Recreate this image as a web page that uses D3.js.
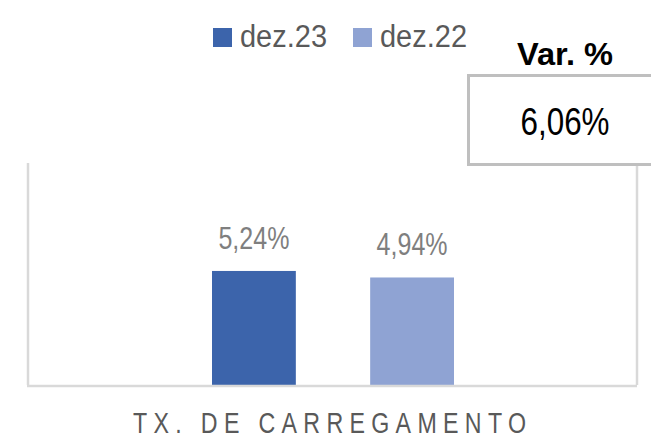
<!DOCTYPE html>
<html lang="pt">
<head>
<meta charset="UTF-8">
<title>Tx. de carregamento</title>
<style>
  body { margin: 0; background: #fff; }
  svg text { font-family: "Liberation Sans", Arial, sans-serif; }
</style>
</head>
<body>
<svg id="chart" width="651" height="442"></svg>
<script src="https://d3js.org/d3.v7.min.js"></script>
<script>
// data
const categories = ["TX. DE CARREGAMENTO"];
const seriesNames = ["dez.23", "dez.22"];
const seriesValues = [5.24, 4.94];
const seriesColors = ["#3c64ab", "#8fa3d3"];
const variation = "6,06%";

const fmt = v => v.toFixed(2).replace(".", ",") + "%";

const svg = d3.select("#chart");
const plotLeft = 28, plotRight = 637, plotTop = 163, plotBottom = 385;

const x0 = d3.scaleBand().domain(categories).range([plotLeft, plotRight]);
const x1 = d3.scaleBand().domain(seriesNames)
    .range([x0(categories[0]) + 184, x0(categories[0]) + 426])
    .paddingInner(0.47).paddingOuter(0);
const y = d3.scaleLinear().domain([0, 10.2]).range([plotBottom, plotTop]);

// plot frame (left, right lines)
svg.append("line").attr("x1", plotLeft).attr("x2", plotLeft).attr("y1", plotTop).attr("y2", plotBottom)
    .attr("stroke", "#d9d9d9").attr("stroke-width", 2.5);
svg.append("line").attr("x1", plotRight).attr("x2", plotRight).attr("y1", plotTop).attr("y2", plotBottom)
    .attr("stroke", "#d9d9d9").attr("stroke-width", 2.5);

// bars
const rows = seriesNames.map((s, i) => ({ s, v: seriesValues[i], c: seriesColors[i] }));
const g = svg.append("g");
g.selectAll("rect").data(rows).join("rect")
    .attr("x", d => x1(d.s))
    .attr("width", x1.bandwidth())
    .attr("y", d => y(d.v))
    .attr("height", d => y(0) - y(d.v))
    .attr("fill", d => d.c);

// narrow-looking labels: squeeze glyphs to the measured width
g.selectAll("text.val").data(rows).join("text")
    .attr("class", "val")
    .attr("x", d => x1(d.s) + x1.bandwidth() / 2)
    .attr("y", d => y(d.v) - 22)
    .attr("text-anchor", "middle")
    .attr("font-size", 32)
    .attr("textLength", 71)
    .attr("lengthAdjust", "spacingAndGlyphs")
    .attr("fill", "#7f7f7f")
    .text(d => fmt(d.v));

// x axis baseline
svg.append("line").attr("x1", plotLeft - 1).attr("x2", plotRight).attr("y1", plotBottom + 1).attr("y2", plotBottom + 1)
    .attr("stroke", "#d9d9d9").attr("stroke-width", 2.5);

// category label: narrow glyphs, wide spacing
const sx = 0.8;
svg.append("g")
    .attr("transform", `translate(${x0(categories[0]) + x0.bandwidth() / 2 - 3},433) scale(${sx},1)`)
  .append("text")
    .attr("text-anchor", "middle")
    .attr("font-size", 29)
    .attr("textLength", 393 / sx)
    .attr("lengthAdjust", "spacing")
    .attr("fill", "#595959")
    .text(categories[0]);

// legend
const legend = svg.append("g").attr("transform", "translate(213,28)");
const lx = [0, 140];
rows.forEach((d, i) => {
  legend.append("rect").attr("x", lx[i]).attr("y", 0).attr("width", 19).attr("height", 19).attr("fill", d.c);
  legend.append("text").attr("x", lx[i] + 27).attr("y", 19)
      .attr("font-size", 31).attr("textLength", 87).attr("lengthAdjust", "spacingAndGlyphs")
      .attr("fill", "#595959").text(d.s);
});

// variation box
svg.append("text").attr("x", 565).attr("y", 65).attr("text-anchor", "middle")
    .attr("font-size", 31).attr("font-weight", "bold")
    .attr("textLength", 96).attr("lengthAdjust", "spacingAndGlyphs")
    .attr("fill", "#000").text("Var. %");
svg.append("rect").attr("x", 468.5).attr("y", 75.5).attr("width", 190).attr("height", 89)
    .attr("fill", "#fff").attr("stroke", "#bfbfbf").attr("stroke-width", 3);
svg.append("text").attr("x", 565).attr("y", 135).attr("text-anchor", "middle")
    .attr("font-size", 38.5).attr("textLength", 89).attr("lengthAdjust", "spacingAndGlyphs")
    .attr("fill", "#000").text(variation);
</script>
</body>
</html>
